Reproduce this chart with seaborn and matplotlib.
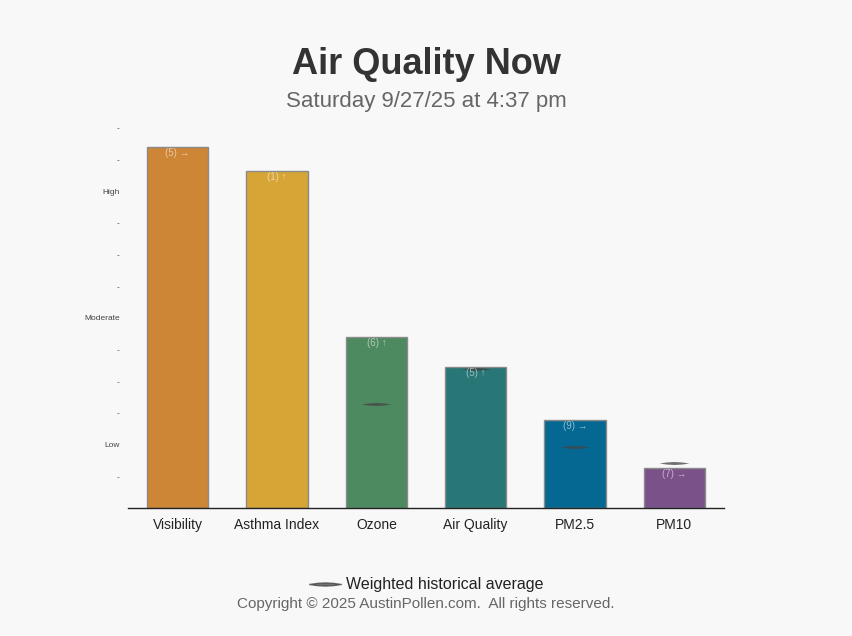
import numpy as np
import pandas as pd
import seaborn as sns
import matplotlib.pyplot as plt
from matplotlib.path import Path
from matplotlib.lines import Line2D

# data
categories = ['Visibility', 'Asthma Index', 'Ozone', 'Air Quality', 'PM2.5', 'PM10']
levels = [11.4, 10.65, 5.4, 4.45, 2.78, 1.27]
averages = [np.nan, np.nan, 3.28, 4.39, 1.93, 1.42]
bar_labels = ['(5) \u2192', '(1) \u2191', '(6) \u2191', '(5) \u2191', '(9) \u2192', '(7) \u2192']
colors = ['#CD8536', '#D6A535', '#4E8A60', '#287676', '#046892', '#7B518A']
ytick_vals = list(range(1, 13))
ytick_text = ['-', 'Low', '-', '-', '-', 'Moderate', '-', '-', '-', 'High', '-', '-']

df = pd.DataFrame({'category': categories, 'level': levels, 'avg': averages})

sns.set_style('white')
plt.rcParams['font.family'] = ['Liberation Sans', 'DejaVu Sans']

bg = '#F8F8F8'
fig = plt.figure(figsize=(8.52, 6.36), dpi=100, facecolor=bg)
ax = fig.add_axes([128 / 852, 1 - 508 / 636, 596 / 852, 380 / 636], facecolor=bg)

sns.barplot(data=df, x='category', y='level', hue='category', palette=colors,
            width=0.62, edgecolor='#8a8a8a', linewidth=1, legend=False, ax=ax, saturation=1)

# lens-shaped marker for historical average
lens = Path([(-1, 0), (-0.5, 0.07), (0, 0.1), (0.5, 0.07), (1, 0),
             (0.5, -0.07), (0, -0.1), (-0.5, -0.07), (-1, 0)])
sns.scatterplot(data=df.dropna(), x='category', y='avg', marker=lens, s=470,
                color='#444444', alpha=0.75, linewidth=0, ax=ax, legend=False)

for i, (v, t) in enumerate(zip(levels, bar_labels)):
    ax.text(i, v - 0.2, t, ha='center', va='center', fontsize=7,
            color='white', alpha=0.55)

ax.set_ylim(0, 12)
ax.set_xlim(-0.5, len(categories) - 0.5)
ax.set_yticks(ytick_vals)
ax.set_yticklabels(ytick_text, fontsize=6, color='#444444')
ax.tick_params(axis='y', length=0, pad=6)
ax.tick_params(axis='x', length=0, labelsize=10, labelcolor='#222222', pad=7)
ax.set_xlabel('')
ax.set_ylabel('')
for s in ['top', 'right', 'left']:
    ax.spines[s].set_visible(False)
ax.spines['bottom'].set_color('#222222')
ax.spines['bottom'].set_linewidth(1)

fig.text(0.5, 1 - 64 / 636, 'Air Quality Now', ha='center', va='center',
         fontsize=26, fontweight='bold', color='#333333')
fig.text(0.5, 1 - 101 / 636, 'Saturday 9/27/25 at 4:37 pm', ha='center', va='center',
         fontsize=16, color='#666666')

handle = Line2D([], [], color='#444444', marker=lens, markersize=23, linestyle='none', alpha=0.75)
fig.legend([handle], ['Weighted historical average'], loc='center',
           bbox_to_anchor=(0.5, 1 - 585 / 636), frameon=False, fontsize=11.5,
           handletextpad=0.3, labelcolor='#222222')
fig.text(0.5, 1 - 604 / 636, 'Copyright \u00a9 2025 AustinPollen.com.  All rights reserved.',
         ha='center', va='center', fontsize=11, color='#666666')

fig.savefig('out.png', dpi=100, facecolor=bg)
